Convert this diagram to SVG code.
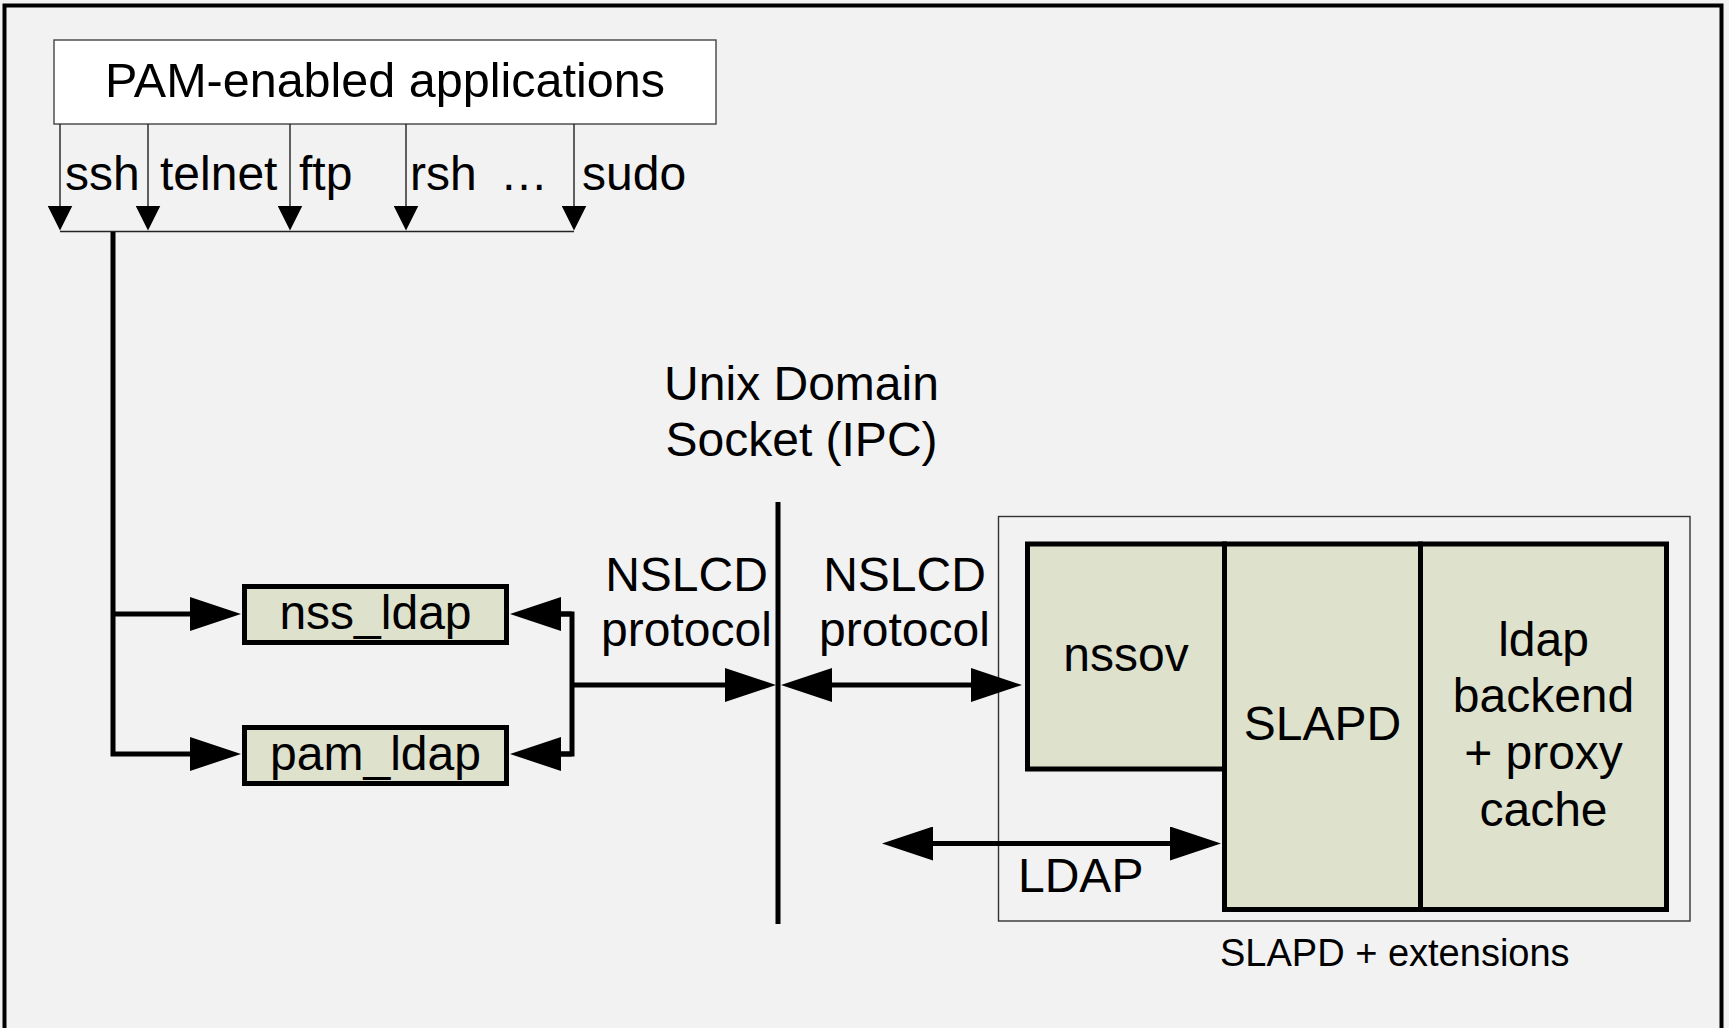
<svg xmlns="http://www.w3.org/2000/svg" width="1729" height="1028" viewBox="0 0 1729 1028">
  <style>
    text { font-family: "Liberation Sans", Arial, sans-serif; font-size: 48px; fill: #000; }
    .mid { text-anchor: middle; }
    .small { font-size: 38px; }
    .thin { fill: none; stroke: #222; stroke-width: 1.4; }
    .thick { fill: none; stroke: #000; stroke-width: 5; stroke-linejoin: miter; }
    .mod { fill: #dee1cc; stroke: #000; stroke-width: 5; }
  </style>
  <defs>
    <!-- large filled arrowhead for the thick connectors; base sits on the line end -->
    <marker id="arrowL" markerUnits="userSpaceOnUse" viewBox="0 0 51 34" markerWidth="51" markerHeight="34" refX="1" refY="17" orient="auto-start-reverse">
      <path d="M0,0 L51,17 L0,34 z" fill="#000"/>
    </marker>
    <!-- small arrowhead for the thin application lines -->
    <marker id="arrowS" markerUnits="userSpaceOnUse" viewBox="0 0 25 25" markerWidth="25" markerHeight="25" refX="0.5" refY="12.5" orient="auto">
      <path d="M0,0 L25,12.5 L0,25 z" fill="#000"/>
    </marker>
  </defs>

  <!-- page background and frame -->
  <rect x="0" y="0" width="1729" height="1028" fill="#f2f2f2"/>
  <rect x="4.5" y="5.5" width="1717" height="1040" fill="none" stroke="#000" stroke-width="4"/>

  <!-- SLAPD + extensions container -->
  <g id="slapd-extensions">
    <rect x="998.5" y="516.5" width="691.5" height="404.5" fill="none" stroke="#333" stroke-width="1.4"/>
    <text class="small" x="1220" y="966">SLAPD + extensions</text>
  </g>

  <g id="pam-apps">
    <rect x="54" y="40" width="662" height="84" fill="#fff" stroke="#444" stroke-width="1.4"/>
    <text class="mid" x="385" y="97" style="font-size:48.5px">PAM-enabled applications</text>
  </g>

  <g id="app-labels">
    <text x="65" y="190">ssh</text>
    <text x="160" y="190">telnet</text>
    <text x="299" y="190">ftp</text>
    <text x="410" y="190">rsh</text>
    <text x="500" y="190">…</text>
    <text x="582" y="190">sudo</text>
  </g>

  <g id="nss-ldap">
    <rect class="mod" x="244.5" y="586.5" width="262" height="56"/>
    <text class="mid" x="375.5" y="629">nss_ldap</text>
  </g>

  <g id="pam-ldap">
    <rect class="mod" x="244.5" y="727.5" width="262" height="56"/>
    <text class="mid" x="375.5" y="770">pam_ldap</text>
  </g>

  <g id="nssov">
    <rect class="mod" x="1027.5" y="544" width="197" height="225"/>
    <text class="mid" x="1126" y="671">nssov</text>
  </g>

  <g id="slapd">
    <rect class="mod" x="1224.5" y="544" width="196" height="365.5"/>
    <text class="mid" x="1322.5" y="740">SLAPD</text>
  </g>

  <g id="ldap-backend">
    <rect class="mod" x="1420.5" y="544" width="246" height="365.5"/>
    <text class="mid" x="1543.5" y="656">ldap</text>
    <text class="mid" x="1543.5" y="712">backend</text>
    <text class="mid" x="1543.5" y="769">+ proxy</text>
    <text class="mid" x="1543.5" y="826">cache</text>
  </g>

  <g id="ipc-socket">
    <line x1="778" y1="502" x2="778" y2="924" stroke="#000" stroke-width="5"/>
    <text class="mid" x="801.5" y="400">Unix Domain</text>
    <text class="mid" x="801.5" y="456">Socket (IPC)</text>
  </g>

  <g id="connectors">
    <!-- application drop lines onto the collecting bar -->
    <line class="thin" x1="60" y1="124" x2="60" y2="206" marker-end="url(#arrowS)"/>
    <line class="thin" x1="148" y1="124" x2="148" y2="206" marker-end="url(#arrowS)"/>
    <line class="thin" x1="290" y1="124" x2="290" y2="206" marker-end="url(#arrowS)"/>
    <line class="thin" x1="406" y1="124" x2="406" y2="206" marker-end="url(#arrowS)"/>
    <line class="thin" x1="574" y1="124" x2="574" y2="206" marker-end="url(#arrowS)"/>
    <line class="thin" x1="60" y1="231.5" x2="574" y2="231.5"/>

    <!-- bar down to the client modules -->
    <path class="thick" d="M113,232 V754 H191" marker-end="url(#arrowL)"/>
    <path class="thick" d="M113,614 H191" marker-end="url(#arrowL)"/>

    <!-- modules to the socket -->
    <path class="thick" d="M560,614 H572 V754 H560"/>
    <path class="thick" d="M572,614 H560" marker-end="url(#arrowL)"/>
    <path class="thick" d="M572,754 H560" marker-end="url(#arrowL)"/>
    <path class="thick" d="M572,685 H726" marker-end="url(#arrowL)"/>
    <text class="mid" x="686.5" y="591">NSLCD</text>
    <text class="mid" x="686.5" y="646">protocol</text>

    <!-- socket to nssov -->
    <line class="thick" x1="831" y1="685" x2="972" y2="685" marker-start="url(#arrowL)" marker-end="url(#arrowL)"/>
    <text class="mid" x="904.5" y="591">NSLCD</text>
    <text class="mid" x="904.5" y="646">protocol</text>

    <!-- LDAP into SLAPD -->
    <line class="thick" x1="932" y1="843.5" x2="1171" y2="843.5" marker-start="url(#arrowL)" marker-end="url(#arrowL)"/>
    <text x="1018" y="892">LDAP</text>
  </g>
</svg>
